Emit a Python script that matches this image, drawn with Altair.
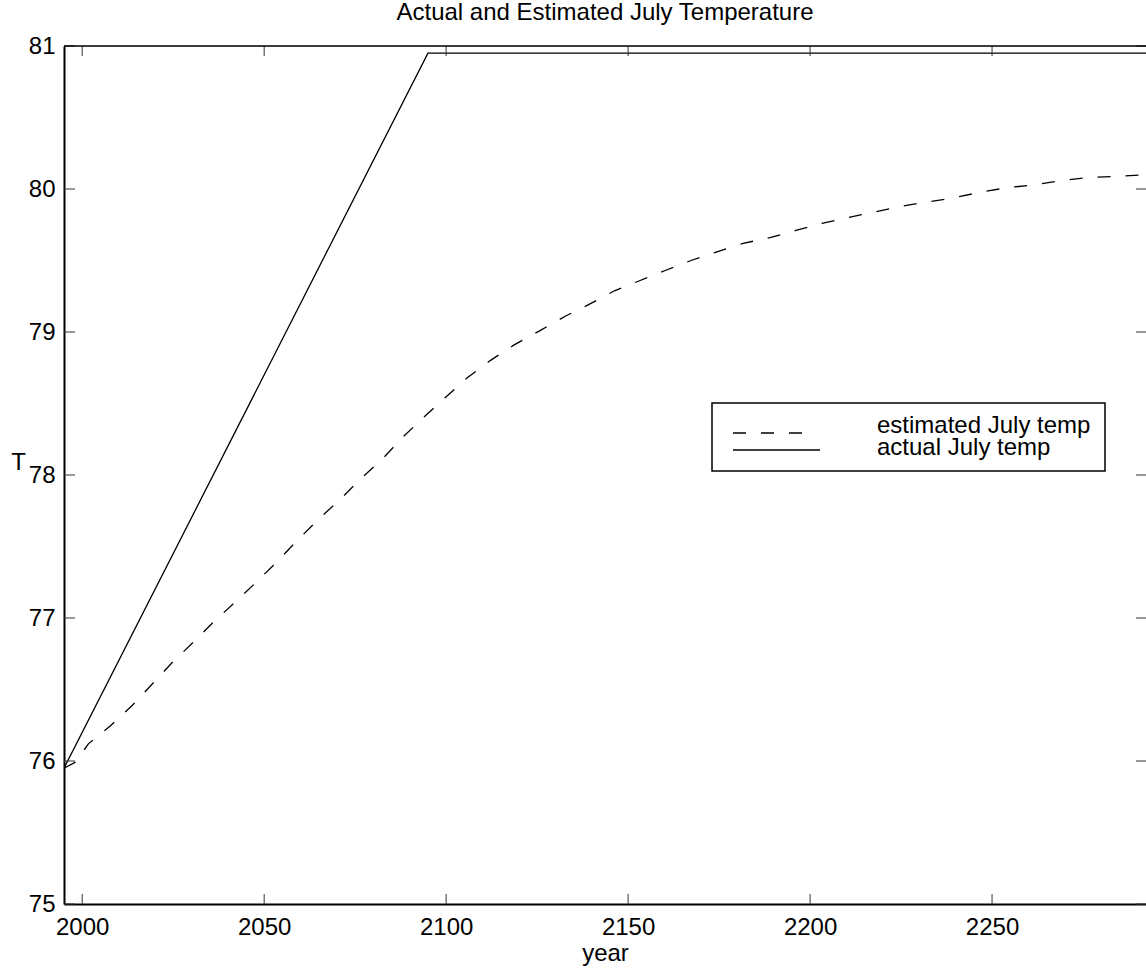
import altair as alt
import pandas as pd

# ---- data ----
years_actual = [1995, 2095, 2292.3]
temp_actual = [75.95, 80.95, 80.95]

years_est = [1995, 1998, 2000, 2001.7, 2007.7, 2013.8, 2019.3, 2024.8, 2030.5, 2036.0,
             2042.0, 2047.8, 2053.4, 2059.0, 2064.9, 2070.9, 2076.4, 2082.4, 2087.9,
             2093.7, 2099.7, 2105.8, 2112.1, 2118.7, 2125.8, 2132.7, 2139.8, 2146.4,
             2153.3, 2160.2, 2167.3, 2174.4, 2181.6, 2189.0, 2196.1, 2203.3, 2210.4,
             2217.8, 2225.2, 2232.4, 2239.8, 2247.2, 2254.4, 2261.8, 2269.2, 2276.3,
             2285.0, 2292.3]
temp_est = [75.95, 75.99, 76.06, 76.12, 76.245, 76.39, 76.54, 76.69, 76.83, 76.97,
            77.11, 77.25, 77.39, 77.54, 77.69, 77.83, 77.97, 78.11, 78.26,
            78.40, 78.54, 78.68, 78.80, 78.91, 79.01, 79.11, 79.20, 79.29,
            79.36, 79.43, 79.50, 79.56, 79.62, 79.66, 79.71, 79.76, 79.80,
            79.84, 79.88, 79.91, 79.94, 79.98, 80.01, 80.03, 80.06, 80.08,
            80.09, 80.10]

x_ticks = [2000, 2050, 2100, 2150, 2200, 2250]
y_ticks = [75, 76, 77, 78, 79, 80, 81]
legend_labels = ["estimated July temp", "actual July temp"]

X_DOMAIN = [1995, 2292.3]
Y_DOMAIN = [75, 81]
W, H = 1082, 858
FONT = "Liberation Sans"
FS = 24

actual_df = pd.DataFrame({"year": years_actual, "T": temp_actual})
est_df = pd.DataFrame({"year": years_est, "T": temp_est})
xt_df = pd.DataFrame({"year": x_ticks})
yt_df = pd.DataFrame({"T": y_ticks})
one = pd.DataFrame({"k": [0]})

xscale = alt.Scale(domain=X_DOMAIN, nice=False, zero=False)
yscale = alt.Scale(domain=Y_DOMAIN, nice=False, zero=False)

x_axis = alt.Axis(values=x_ticks, format="d", ticks=False, tickSize=0, grid=False,
                  domainColor="black", domainWidth=2, labelFontSize=FS, labelFont=FONT,
                  labelColor="black", labelPadding=11, title="year", titleFont=FONT,
                  titleFontSize=FS, titleFontWeight="normal", titleColor="black",
                  titlePadding=2)
y_axis = alt.Axis(values=y_ticks, format="d", ticks=False, tickSize=0, grid=False,
                  domainColor="black", domainWidth=2, labelFontSize=FS, labelFont=FONT,
                  labelColor="black", labelPadding=9, title="T", titleFont=FONT,
                  titleFontSize=FS, titleFontWeight="normal", titleColor="black",
                  titleAngle=0, titleX=-46, titleY=416, titleAlign="center",
                  titleBaseline="middle")

actual_line = alt.Chart(actual_df).mark_line(color="black", strokeWidth=1.3, clip=True).encode(
    x=alt.X("year:Q", scale=xscale, axis=x_axis),
    y=alt.Y("T:Q", scale=yscale, axis=y_axis),
)
est_line = alt.Chart(est_df).mark_line(color="black", strokeWidth=1.3, strokeDash=[13, 15],
                                       clip=True).encode(
    x=alt.X("year:Q", scale=xscale),
    y=alt.Y("T:Q", scale=yscale),
)

# inward ticks (MATLAB style)
tick_col = "#333333"
bottom_ticks = alt.Chart(xt_df).mark_rule(color=tick_col, strokeWidth=1).encode(
    x=alt.X("year:Q", scale=xscale), y=alt.value(H), y2=alt.value(H - 10))
top_ticks = alt.Chart(xt_df).mark_rule(color=tick_col, strokeWidth=1).encode(
    x=alt.X("year:Q", scale=xscale), y=alt.value(0), y2=alt.value(10))
left_ticks = alt.Chart(yt_df).mark_rule(color=tick_col, strokeWidth=1).encode(
    y=alt.Y("T:Q", scale=yscale), x=alt.value(0), x2=alt.value(11))
right_ticks = alt.Chart(yt_df).mark_rule(color=tick_col, strokeWidth=1).encode(
    y=alt.Y("T:Q", scale=yscale), x=alt.value(W - 10), x2=alt.value(W))

top_border = alt.Chart(one).mark_rule(color="black", strokeWidth=1.5).encode(
    x=alt.value(0), x2=alt.value(W), y=alt.value(0))

# legend box
leg_box = alt.Chart(one).mark_rect(fill="white", stroke="black", strokeWidth=1.5).encode(
    x=alt.value(648), x2=alt.value(1041), y=alt.value(357), y2=alt.value(425))
leg_dash = alt.Chart(one).mark_rule(color="black", strokeWidth=1.3, strokeDash=[13, 15]).encode(
    x=alt.value(669), x2=alt.value(745), y=alt.value(387))
leg_solid = alt.Chart(one).mark_rule(color="black", strokeWidth=1.3).encode(
    x=alt.value(669), x2=alt.value(756), y=alt.value(404))
leg_t1 = alt.Chart(one).mark_text(align="left", baseline="middle", font=FONT, fontSize=FS,
                                  color="black").encode(
    x=alt.value(813), y=alt.value(380), text=alt.value(legend_labels[0]))
leg_t2 = alt.Chart(one).mark_text(align="left", baseline="middle", font=FONT, fontSize=FS,
                                  color="black").encode(
    x=alt.value(813), y=alt.value(402), text=alt.value(legend_labels[1]))

chart = alt.layer(
    actual_line, est_line, bottom_ticks, top_ticks, left_ticks, right_ticks, top_border,
    leg_box, leg_dash, leg_solid, leg_t1, leg_t2,
).properties(
    width=W, height=H,
    title=alt.TitleParams("Actual and Estimated July Temperature", font=FONT, fontSize=FS,
                          fontWeight="normal", color="black", anchor="middle", offset=9),
    autosize=alt.AutoSizeParams(type="none"),
    padding={"left": 64, "top": 46, "right": 0, "bottom": 71},
).configure_view(stroke=None).configure(background="white")

chart.save("out.html", embed_options={"renderer": "svg", "actions": False})
